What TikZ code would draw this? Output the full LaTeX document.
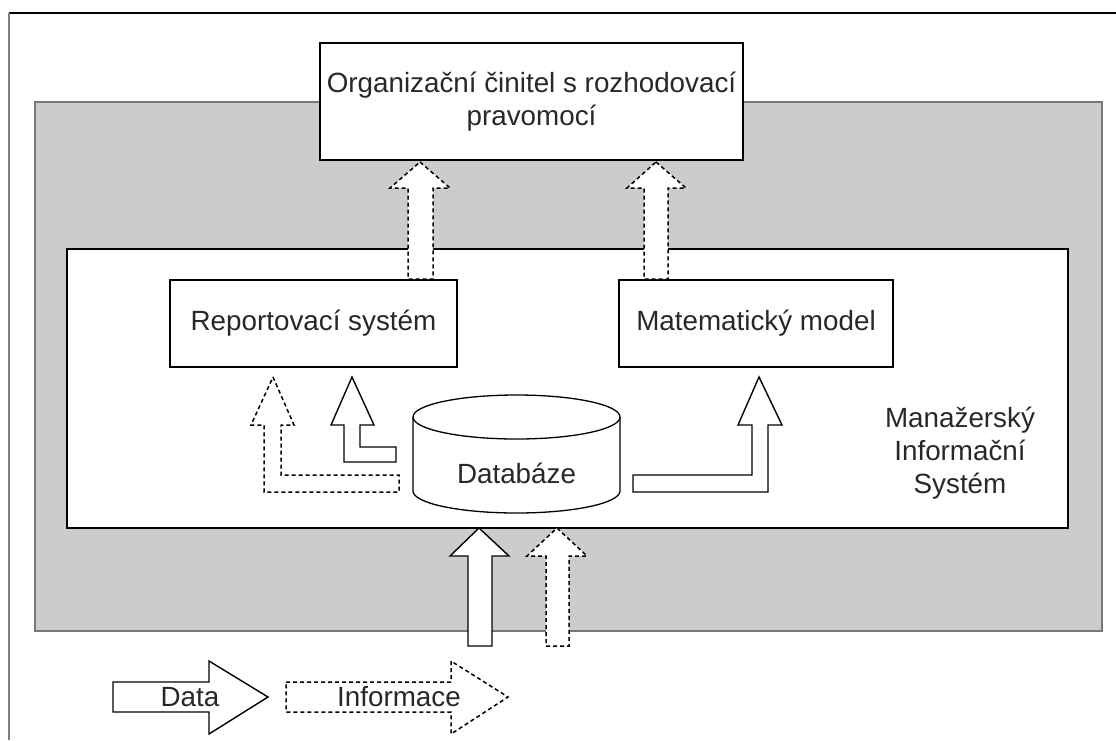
\documentclass[tikz,border=0pt]{standalone}
\usepackage{fontspec}
\setmainfont{Liberation Sans}
\definecolor{txt}{RGB}{40,40,40}
\definecolor{panel}{RGB}{204,204,204}
\definecolor{panelline}{RGB}{120,120,120}
\definecolor{frameleft}{RGB}{128,128,128}
\begin{document}
\begin{tikzpicture}[x=1pt,y=-1pt,
  box/.style={draw=black, line width=1.3pt, fill=white, inner sep=0pt, align=center,
    text=txt, font=\fontsize{27.8}{33}\selectfont},
  solidarrow/.style={draw=black, line width=1.4pt, fill=white, line join=miter},
  dasharrow/.style={draw=black, line width=1.5pt, fill=white, dash pattern=on 4pt off 3pt},
  lbl/.style={text=txt, font=\fontsize{27.8}{33}\selectfont, align=center, inner sep=0pt}]
\useasboundingbox (0,0) rectangle (1116,740);
\fill[white] (0,0) rectangle (1116,740);
% page frame (top and left edges)
\draw[black, line width=1.5pt] (9,13) -- (1116,13);
\draw[frameleft, line width=1.5pt] (9,13) -- (9,740);
% grey panel and inner white panel
\node[draw=panelline, line width=1.3pt, fill=panel, minimum width=1067pt, minimum height=529pt, inner sep=0pt] (panel) at (568.5,366.5) {};
\node[draw=black, line width=1.3pt, fill=white, minimum width=1001pt, minimum height=279pt, inner sep=0pt] (mis) at (567.5,388.5) {};
% boxes
\node[box, minimum width=423pt, minimum height=117pt] (org) at (531.5,101.5) {Organizační činitel s rozhodovací\\pravomocí};
\node[box, minimum width=287pt, minimum height=87pt] (rep) at (313.5,323.5) {Reportovací systém};
\node[box, minimum width=274pt, minimum height=87pt] (mat) at (756,323.5) {Matematický model};
\node[lbl] (mislabel) at (960,453) {Manažerský\\Informační\\Systém};
% database cylinder
\draw[black, line width=1.3pt, fill=white] (413,417) -- (413,491)
  arc[start angle=180, end angle=0, x radius=103.5, y radius=22] -- (620,417)
  arc[start angle=0, end angle=-180, x radius=103.5, y radius=22] -- cycle;
\draw[black, line width=1.3pt] (413,417) arc[start angle=180, end angle=0, x radius=103.5, y radius=22];
\node[lbl] (db) at (516.5,473) {Databáze};
% information arrows to the top box
\draw[dasharrow] (420,162) -- (450,188) -- (433,188) -- (433,279) -- (408,279) -- (408,188) -- (390,188) -- cycle;
\draw[dasharrow] (656,162) -- (686,188) -- (668,188) -- (668,279) -- (644,279) -- (644,188) -- (627,188) -- cycle;
% L arrows from database
\draw[dasharrow] (273,377) -- (294,425) -- (281,425) -- (281,475) -- (399,475) -- (399,492) -- (264,492) -- (264,425) -- (251,425) -- cycle;
\draw[solidarrow] (352,377) -- (374,425) -- (360,425) -- (360,447) -- (396,447) -- (396,462) -- (344,462) -- (344,425) -- (331,425) -- cycle;
\draw[solidarrow] (759,377) -- (782,425) -- (768,425) -- (768,492) -- (633,492) -- (633,475) -- (752,475) -- (752,425) -- (738,425) -- cycle;
% input arrows from below
\draw[solidarrow] (479,528) -- (509,556) -- (492,556) -- (492,646) -- (468,646) -- (468,556) -- (450,556) -- cycle;
\draw[dasharrow] (557,528) -- (587,556) -- (569,556) -- (569,646) -- (546,646) -- (546,556) -- (527,556) -- cycle;
% legend
\draw[solidarrow] (113,682) -- (209,682) -- (209,661) -- (268,697) -- (209,734) -- (209,712) -- (113,712) -- cycle;
\node[lbl] (data) at (190,697) {Data};
\draw[dasharrow] (286,682) -- (451,682) -- (451,661) -- (508,697) -- (451,734) -- (451,712) -- (286,712) -- cycle;
\node[lbl] (info) at (399,697) {Informace};
\end{tikzpicture}
\end{document}
